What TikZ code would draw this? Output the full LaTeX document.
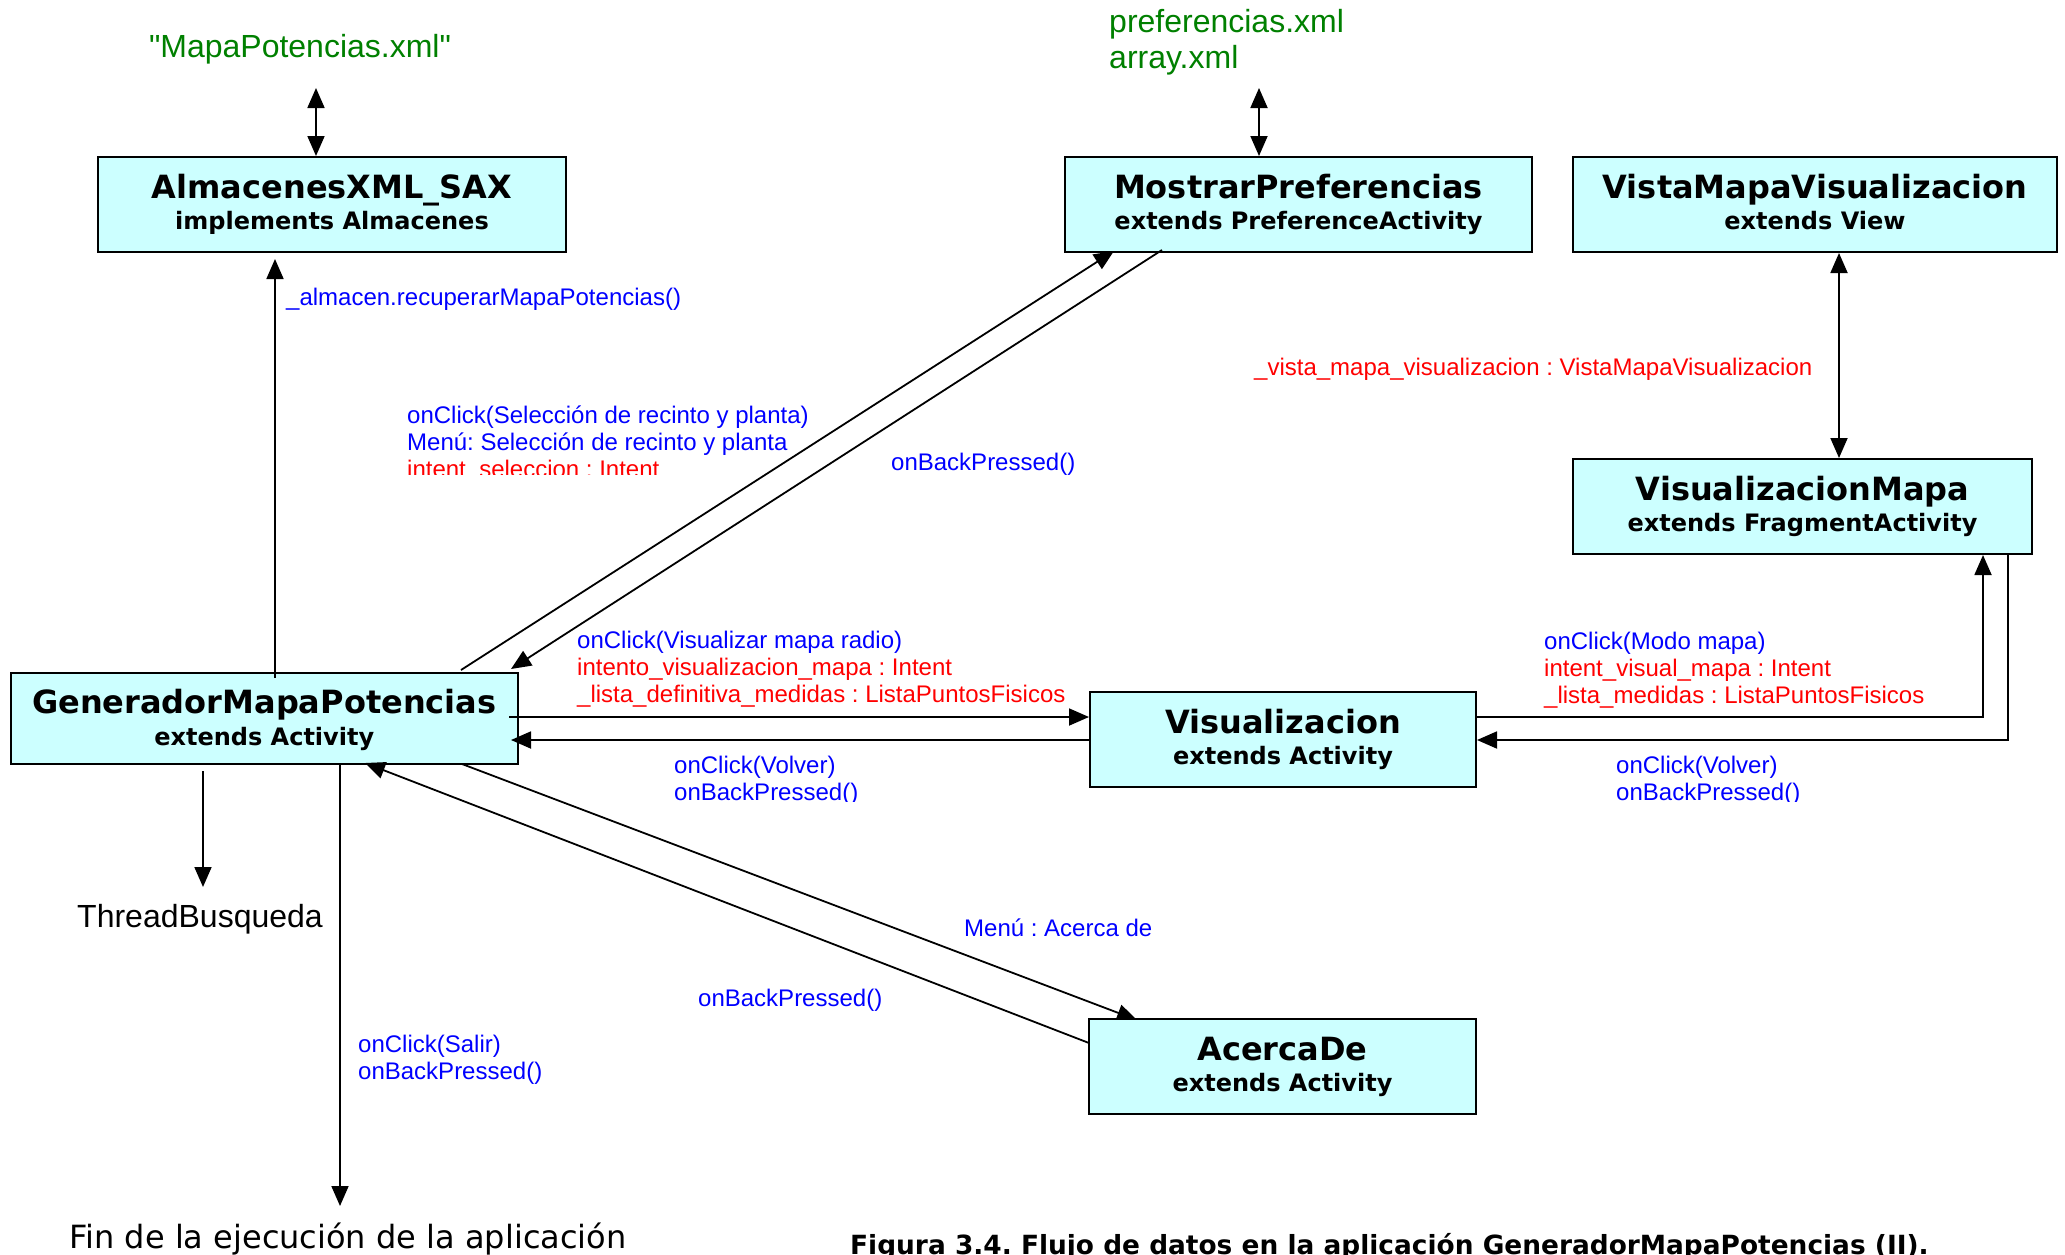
\documentclass[tikz,border=0pt]{standalone}
\usepackage{fontspec}
\setmainfont{Liberation Sans}
\newfontfamily\boxfont{DejaVu Sans}
\newfontfamily\rawsans{Liberation Sans}
\usetikzlibrary{arrows.meta,backgrounds}
\definecolor{boxfill}{RGB}{204,255,255}
\definecolor{xmlgreen}{RGB}{0,128,0}
\definecolor{msgblue}{RGB}{0,0,255}
\definecolor{msgred}{RGB}{255,0,0}
\frenchspacing
\tikzset{
  cls/.style={draw=black, line width=2pt, fill=boxfill, inner sep=0pt},
  clstitle/.style={font=\boxfont\bfseries\fontsize{32}{36}\selectfont, anchor=base, inner sep=0pt},
  clssub/.style={font=\boxfont\bfseries\fontsize{24}{28}\selectfont, anchor=base, inner sep=0pt},
  msg/.style={font=\fontsize{24}{27}\selectfont, anchor=base west, inner sep=0pt, align=left},
  flow/.style={line width=1.8pt, -{Triangle[length=20pt,width=17pt]}},
  both/.style={line width=1.8pt, {Triangle[length=20pt,width=17pt]}-{Triangle[length=20pt,width=17pt]}},
  plain/.style={font=\fontsize{32}{36}\selectfont, inner sep=0pt},
}
\begin{document}
\begin{tikzpicture}[x=1pt,y=-1pt]
\begin{scope}[on background layer]
\fill[white] (0,0) rectangle (2065,1254);
\end{scope}
\useasboundingbox (0,0) rectangle (2065,1254);

% classes
\node[cls, minimum width=468pt, minimum height=95pt] (alm) at (332,204.5) {};
\node[clstitle] (almT) at ([yshift=-42pt]alm.north) {AlmacenesXML\_SAX};
\node[clssub] (almS) at ([yshift=-73pt]alm.north) {implements Almacenes};

\node[cls, minimum width=467pt, minimum height=95pt] (mos) at (1298.5,204.5) {};
\node[clstitle] (mosT) at ([yshift=-42pt]mos.north) {MostrarPreferencias};
\node[clssub] (mosS) at ([yshift=-73pt]mos.north) {extends PreferenceActivity};

\node[cls, minimum width=484pt, minimum height=95pt] (vis) at (1815,204.5) {};
\node[clstitle] (visT) at ([yshift=-42pt]vis.north) {VistaMapaVisualizacion};
\node[clssub] (visS) at ([yshift=-73pt]vis.north) {extends View};

\node[cls, minimum width=459pt, minimum height=95pt] (vmap) at (1802.5,506.5) {};
\node[clstitle] (vmapT) at ([yshift=-42pt]vmap.north) {VisualizacionMapa};
\node[clssub] (vmapS) at ([yshift=-73pt]vmap.north) {extends FragmentActivity};

\node[cls, minimum width=507.5pt, minimum height=91pt] (gen) at (264.25,718.5) {};
\node[clstitle] (genT) at ([yshift=-41pt]gen.north) {GeneradorMapaPotencias};
\node[clssub] (genS) at ([yshift=-73pt]gen.north) {extends Activity};

\node[cls, minimum width=386pt, minimum height=95pt] (visu) at (1283,739.5) {};
\node[clstitle] (visuT) at ([yshift=-42pt]visu.north) {Visualizacion};
\node[clssub] (visuS) at ([yshift=-73pt]visu.north) {extends Activity};

\node[cls, minimum width=387pt, minimum height=95pt] (acd) at (1282.5,1066.5) {};
\node[clstitle] (acdT) at ([yshift=-42pt]acd.north) {AcercaDe};
\node[clssub] (acdS) at ([yshift=-73pt]acd.north) {extends Activity};

% free texts (multi-line nodes are placed by the baseline of their last line)
\node[plain, font=\rawsans\fontsize{32}{36}\selectfont, text=xmlgreen, anchor=base] (xmlmap) at (300,57) {"MapaPotencias.xml"};
\node[plain, text=xmlgreen, anchor=base west, align=left] (xmlpref) at (1109,68) {preferencias.xml\\array.xml};
\node[plain, anchor=base] (thr) at (200,927) {ThreadBusqueda};
\node[plain, font=\boxfont\fontsize{32}{36}\selectfont, anchor=base] (fin) at (348,1248) {Fin de la ejecución de la aplicación};
\node[anchor=base west, inner sep=0pt, font=\boxfont\bfseries\fontsize{26.4}{30}\selectfont] (cap) at (850,1254) {Figura 3.4. Flujo de datos en la aplicación GeneradorMapaPotencias (II).};

% anchor points of the connectors
\coordinate (almX) at (316,88);
\coordinate (mosX) at (1259,88);
\coordinate (genUp) at (275,678);
\coordinate (almIn) at (275,259);
\coordinate (genR1) at (509,717);
\coordinate (genR2) at (511,740);
\coordinate (gm1) at (461,670);
\coordinate (gm2) at (1114,251);
\coordinate (mg1) at (1162,250);
\coordinate (mg2) at (511,669);
\coordinate (ga1) at (462,764);
\coordinate (ga2) at (1137,1020);
\coordinate (ag1) at (1089,1043);
\coordinate (ag2) at (365,763);
\coordinate (thS) at (203,771);
\coordinate (thE) at (203,887);
\coordinate (finS) at (340,764);
\coordinate (finE) at (340,1206);

% connectors
\draw[both] (almX) -- (almX |- alm.north);
\draw[both] (mosX) -- (mosX |- mos.north);
\draw[both] ([xshift=24pt]vis.south) -- ([xshift=36.5pt]vmap.north);
\draw[flow] (genUp) -- (almIn);
\draw[flow] (genR1) -- (genR1 -| visu.west);
\draw[flow] (genR2 -| visu.west) -- (genR2);
\draw[flow] (genR1 -| visu.east) -| ([xshift=180.5pt]vmap.south);
\draw[flow] ([xshift=205.5pt]vmap.south) |- (genR2 -| visu.east);
\draw[flow] (mg1) -- (mg2);
\draw[flow] (ag1) -- (ag2);
\draw[flow] (thS) -- (thE);
\draw[flow] (finS) -- (finE);
\begin{scope}[on background layer]
\draw[flow] (gm1) -- (gm2);
\draw[flow] (ga1) -- (ga2);
\end{scope}

% messages
\node[msg, text=msgblue] (mAlm) at (286,305) {\_almacen.recuperarMapaPotencias()};
\begin{scope}
\clip (395,390) rectangle (840,474);
\node[msg] (mSel) at (407,477) {\textcolor{msgblue}{onClick(Selección de recinto y planta)}\\\textcolor{msgblue}{Menú: Selección de recinto y planta}\\\textcolor{msgred}{intent\_seleccion : Intent}};
\end{scope}
\node[msg, text=msgblue] (mBackPref) at (891,470) {onBackPressed()};
\node[msg, text=msgred] (mVista) at (1254,375) {\_vista\_mapa\_visualizacion : VistaMapaVisualizacion};
\node[msg] (mVisu) at (577,702) {\textcolor{msgblue}{onClick(Visualizar mapa radio)}\\\textcolor{msgred}{intento\_visualizacion\_mapa : Intent}\\\textcolor{msgred}{\_lista\_definitiva\_medidas : ListaPuntosFisicos}};
\node[msg] (mModo) at (1544,703) {\textcolor{msgblue}{onClick(Modo mapa)}\\\textcolor{msgred}{intent\_visual\_mapa : Intent}\\\textcolor{msgred}{\_lista\_medidas : ListaPuntosFisicos}};
\begin{scope}
\clip (660,745) rectangle (900,801);
\node[msg, text=msgblue] (mVolA) at (674,800) {onClick(Volver)\\onBackPressed()};
\end{scope}
\begin{scope}
\clip (1600,745) rectangle (1860,801);
\node[msg, text=msgblue] (mVolB) at (1616,800) {onClick(Volver)\\onBackPressed()};
\end{scope}
\node[msg, text=msgblue] (mAcd) at (964,936) {Menú : Acerca de};
\node[msg, text=msgblue] (mBackAcd) at (698,1006) {onBackPressed()};
\node[msg, text=msgblue] (mSalir) at (358,1079) {onClick(Salir)\\onBackPressed()};
\end{tikzpicture}
\end{document}
